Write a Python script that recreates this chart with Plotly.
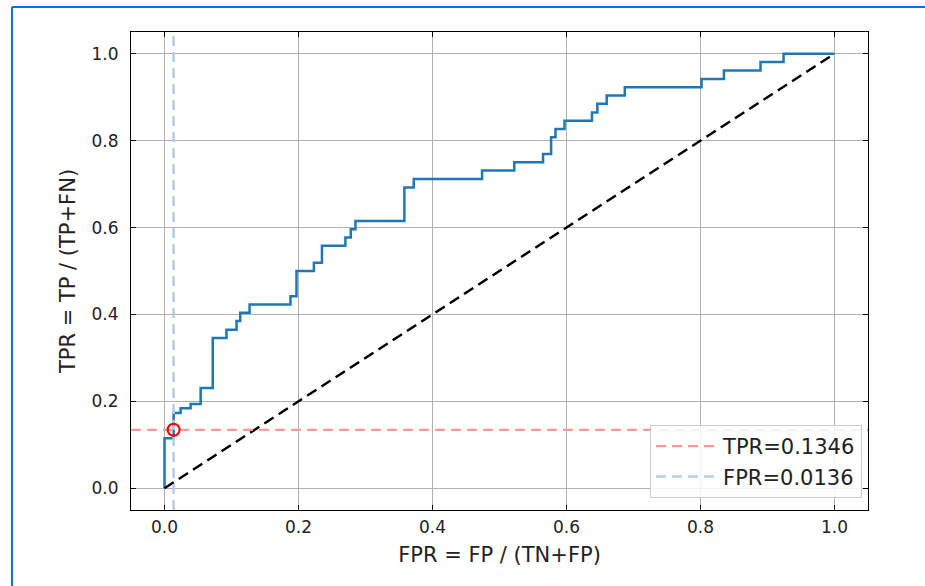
import plotly.graph_objects as go

# ROC curve step points (fpr, tpr), drawn vertical-then-horizontal
fpr = [0.0, 0.0136, 0.024, 0.039, 0.054, 0.072, 0.0925, 0.1075, 0.113, 0.127,
       0.188, 0.197, 0.223, 0.235, 0.270, 0.278, 0.285, 0.358, 0.372, 0.474,
       0.522, 0.565, 0.577, 0.5836, 0.597, 0.638, 0.646, 0.660, 0.687, 0.8015,
       0.835, 0.8896, 0.924, 1.0]
tpr = [0.0, 0.1154, 0.173, 0.184, 0.194, 0.2308, 0.346, 0.365, 0.385, 0.404,
       0.423, 0.442, 0.500, 0.519, 0.558, 0.577, 0.596, 0.615, 0.692, 0.7115,
       0.731, 0.750, 0.769, 0.808, 0.827, 0.846, 0.865, 0.885, 0.904, 0.923,
       0.942, 0.9615, 0.981, 1.0]

sel_tpr = 0.1346
sel_fpr = 0.0136
axis_range = [-0.05, 1.05]
diag = [0.0, 1.0]
tick_vals = [0.0, 0.2, 0.4, 0.6, 0.8, 1.0]

FONT = "DejaVu Sans"

fig = go.Figure()

fig.add_trace(go.Scatter(x=fpr, y=tpr, mode="lines", line_shape="vh",
                         line=dict(color="#1f77b4", width=2.5), showlegend=False))
fig.add_trace(go.Scatter(x=diag, y=diag, mode="lines",
                         line=dict(color="black", width=2.5, dash="11px,6px"), showlegend=False))
fig.add_trace(go.Scatter(x=axis_range, y=[sel_tpr, sel_tpr], mode="lines",
                         line=dict(color="#f29b9b", width=2.2, dash="10px,6px"),
                         name=f"TPR={sel_tpr:.4f}"))
fig.add_trace(go.Scatter(x=[sel_fpr, sel_fpr], y=axis_range, mode="lines",
                         line=dict(color="#b8cce6", width=2.5, dash="10px,6px"),
                         name=f"FPR={sel_fpr:.4f}"))
fig.add_trace(go.Scatter(x=[sel_fpr], y=[sel_tpr], mode="markers",
                         marker=dict(symbol="circle-open", color="red", size=12,
                                     line=dict(width=2.2, color="red")),
                         showlegend=False))

axis_common = dict(range=axis_range, tickvals=tick_vals, tickformat=".1f",
                   showgrid=True, gridcolor="#b0b0b0", gridwidth=1,
                   zeroline=False, showline=True, linecolor="black", linewidth=1,
                   mirror="allticks", ticks="inside", ticklen=5, tickcolor="black",
                   tickfont=dict(family=FONT, size=17, color="#222"))

fig.update_xaxes(title=dict(text="FPR = FP / (TN+FP)", font=dict(family=FONT, size=21, color="#222"),
                            standoff=10), ticklabelstandoff=2, **axis_common)
fig.update_yaxes(title=dict(text="TPR = TP / (TP+FN)", font=dict(family=FONT, size=21, color="#222"),
                            standoff=10), ticklabelstandoff=8, **axis_common)

fig.update_layout(
    width=925, height=586,
    margin=dict(l=131, r=57, t=32, b=76),
    paper_bgcolor="white", plot_bgcolor="white",
    font=dict(family=FONT, size=17, color="#222"),
    legend=dict(x=0.992, y=0.025, xanchor="right", yanchor="bottom",
                itemwidth=62,
                bgcolor="rgba(255,255,255,0.85)", bordercolor="#cccccc", borderwidth=1,
                font=dict(family=FONT, size=21, color="#222")),
    shapes=[
        dict(type="line", xref="paper", yref="paper", x0=-0.1615, x1=-0.1615, y0=1.0523, y1=-0.3,
             line=dict(color="#1170d8", width=2)),
        dict(type="line", xref="paper", yref="paper", x0=-0.1615, x1=1.3, y0=1.0523, y1=1.0523,
             line=dict(color="#1170d8", width=2)),
    ],
)

fig.write_html("out.html", config={"displayModeBar": False},
               post_script="document.body.style.margin='0px';document.body.style.overflow='hidden';")
